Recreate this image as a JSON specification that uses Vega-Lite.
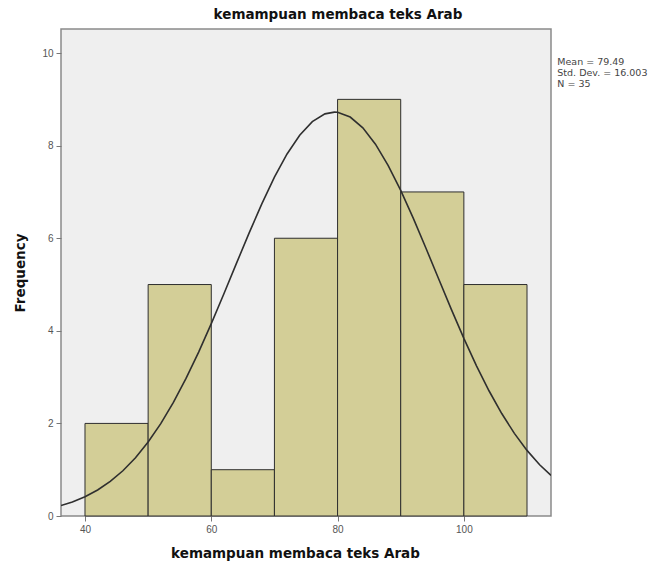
{
  "$schema": "https://vega.github.io/schema/vega-lite/v6.json",
  "width": 490,
  "height": 487,
  "autosize": {"type": "none"},
  "padding": {"left": 61, "top": 29, "right": 114, "bottom": 57},
  "background": "white",
  "title": {
    "text": "kemampuan membaca teks Arab",
    "font": "DejaVu Sans",
    "fontSize": 13.5,
    "fontWeight": "bold",
    "color": "#111111",
    "anchor": "middle",
    "dx": 32,
    "offset": 8
  },
  "config": {
    "view": {"fill": "#efefef", "stroke": "#8a8a8a", "strokeWidth": 1.5},
    "axis": {
      "labelFont": "Liberation Sans",
      "labelFontSize": 10,
      "labelColor": "#555555",
      "titleFont": "DejaVu Sans",
      "titleFontSize": 13.5,
      "titleFontWeight": "bold",
      "titleColor": "#111111",
      "tickColor": "#777777",
      "tickSize": 5,
      "domain": false,
      "grid": false
    }
  },
  "datasets": {
    "bins": [
      {"start": 40, "end": 50, "count": 2},
      {"start": 50, "end": 60, "count": 5},
      {"start": 60, "end": 70, "count": 1},
      {"start": 70, "end": 80, "count": 6},
      {"start": 80, "end": 90, "count": 9},
      {"start": 90, "end": 100, "count": 7},
      {"start": 100, "end": 110, "count": 5}
    ],
    "curve": [
      {"x": 36.2, "y": 0.225}, {"x": 38, "y": 0.303}, {"x": 40, "y": 0.416}, {"x": 42, "y": 0.561},
      {"x": 44, "y": 0.747}, {"x": 46, "y": 0.977}, {"x": 48, "y": 1.259}, {"x": 50, "y": 1.598},
      {"x": 52, "y": 1.995}, {"x": 54, "y": 2.454}, {"x": 56, "y": 2.971}, {"x": 58, "y": 3.541},
      {"x": 60, "y": 4.156}, {"x": 62, "y": 4.802}, {"x": 64, "y": 5.462}, {"x": 66, "y": 6.116},
      {"x": 68, "y": 6.742}, {"x": 70, "y": 7.318}, {"x": 72, "y": 7.82}, {"x": 74, "y": 8.226},
      {"x": 76, "y": 8.52}, {"x": 78, "y": 8.687}, {"x": 79.49, "y": 8.725}, {"x": 80, "y": 8.721},
      {"x": 82, "y": 8.618}, {"x": 84, "y": 8.385}, {"x": 86, "y": 8.032}, {"x": 88, "y": 7.575},
      {"x": 90, "y": 7.033}, {"x": 92, "y": 6.428}, {"x": 94, "y": 5.784}, {"x": 96, "y": 5.124},
      {"x": 98, "y": 4.469}, {"x": 100, "y": 3.838}, {"x": 102, "y": 3.245}, {"x": 104, "y": 2.7},
      {"x": 106, "y": 2.213}, {"x": 108, "y": 1.785}, {"x": 110, "y": 1.417}, {"x": 112, "y": 1.108},
      {"x": 113.8, "y": 0.876}
    ]
  },
  "layer": [
    {
      "data": {"name": "bins"},
      "mark": {"type": "rect", "fill": "#d3ce97", "stroke": "#2e2e2e", "strokeWidth": 1},
      "encoding": {
        "x": {
          "field": "start", "type": "quantitative",
          "scale": {"domain": [36.2, 113.8], "nice": false, "zero": false},
          "axis": {"values": [40, 60, 80, 100], "title": "kemampuan membaca teks Arab", "titlePadding": 12, "labelPadding": 3, "titleX": 234}
        },
        "x2": {"field": "end"},
        "y": {
          "field": "count", "type": "quantitative",
          "scale": {"domain": [0, 10.52], "nice": false},
          "axis": {"values": [0, 2, 4, 6, 8, 10], "title": "Frequency", "titlePadding": 14, "labelPadding": 3}
        },
        "y2": {"datum": 0}
      }
    },
    {
      "data": {"name": "curve"},
      "mark": {"type": "line", "color": "#2f2f2f", "strokeWidth": 1.6, "clip": true},
      "encoding": {
        "x": {"field": "x", "type": "quantitative"},
        "y": {"field": "y", "type": "quantitative"}
      }
    },
    {
      "data": {"values": [{}]},
      "mark": {
        "type": "text",
        "align": "left",
        "baseline": "middle",
        "font": "DejaVu Sans",
        "fontSize": 9.5,
        "color": "#444444",
        "lineHeight": 11,
        "clip": false
      },
      "encoding": {
        "x": {"datum": 114.8, "type": "quantitative"},
        "y": {"datum": 9.8, "type": "quantitative"},
        "text": {"value": ["Mean = 79.49", "Std. Dev. = 16.003", "N = 35"]}
      }
    }
  ]
}
